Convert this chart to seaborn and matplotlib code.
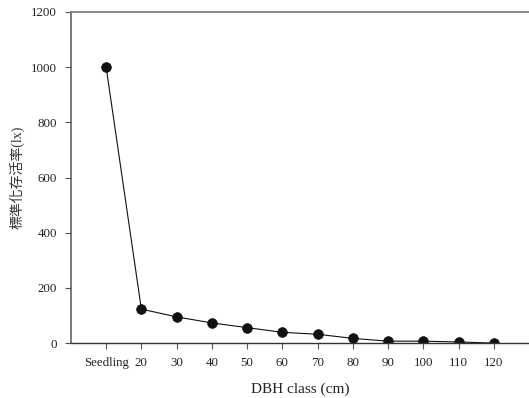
import matplotlib
matplotlib.use("Agg")
import matplotlib.pyplot as plt
import seaborn as sns
import pandas as pd
import numpy as np

sns.set_style("white")
plt.rcParams['font.family'] = ['Liberation Serif', 'Noto Sans CJK TC']

dbh_classes = ["Seedling", "20", "30", "40", "50", "60", "70", "80", "90", "100", "110", "120"]
survival_lx = [1000, 123, 95, 73, 56, 39, 32, 17, 7, 7, 4, 0]

df = pd.DataFrame({"pos": np.arange(len(dbh_classes)), "lx": survival_lx})

fig = plt.figure(figsize=(5.29, 3.98), dpi=100)
ax = fig.add_axes([0.134, 0.138, 0.866, 0.832])

sns.lineplot(data=df, x="pos", y="lx", ax=ax, color="#111111", linewidth=0.8,
             marker="o", markersize=7, markeredgewidth=0.5,
             markeredgecolor="#111111", markerfacecolor="#111111")

ax.set_xlim(-1, 12)
ax.set_ylim(0, 1200)
ax.set_yticks(range(0, 1201, 200))
ax.set_xticks(df["pos"])
ax.set_xticklabels(dbh_classes)
ax.tick_params(axis="both", direction="out", length=4, width=0.8,
               color="#555555", labelsize=9.3, labelcolor="#222222",
               pad=6, bottom=True, left=True)

ax.set_xlabel("DBH class (cm)", fontsize=11, labelpad=10, color="#222222")
ax.set_ylabel("標準化存活率(lx)", fontsize=10, labelpad=5, color="#333333")

ax.spines["right"].set_visible(False)
ax.spines["top"].set_color("#808080")
ax.spines["top"].set_linewidth(1.3)
ax.spines["left"].set_color("#555555")
ax.spines["left"].set_linewidth(1.1)
ax.spines["bottom"].set_color("#333333")
ax.spines["bottom"].set_linewidth(1.0)
ax.grid(False)

fig.savefig("out.png", dpi=100)
